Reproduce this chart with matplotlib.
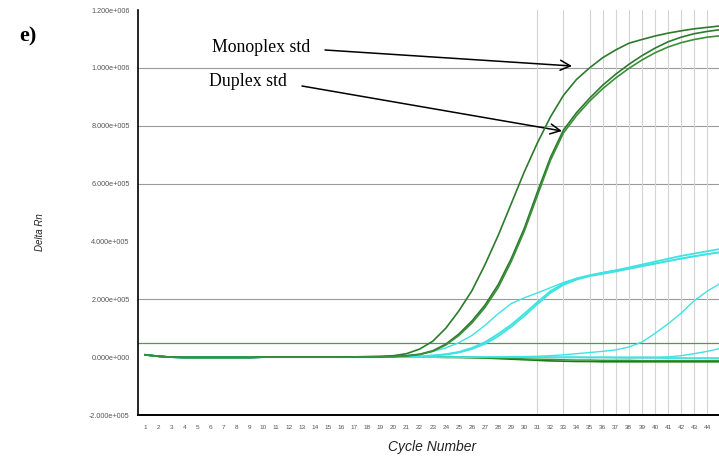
import matplotlib
matplotlib.use("Agg")
import matplotlib.pyplot as plt
from matplotlib.ticker import FixedLocator

cycles = list(range(1, 46))

# values in units of 1e3 (Delta Rn), cycles 1..45
monoplex = [8, 3, 0, -1, -1, -1, -1, -1, -1, 0, 0, 0, 0, 0, 0, 1, 1, 2, 3, 5,
            12, 28, 55, 100, 160, 230, 320, 420, 530, 640, 740, 830, 905, 960, 1000,
            1035, 1062, 1085, 1098, 1110, 1120, 1128, 1135, 1140, 1145]
duplex_a = [8, 3, 0, -1, -1, -1, -1, -1, -1, 0, 0, 0, 0, 0, 0, 0, 1, 1, 1, 2,
            5, 10, 22, 45, 80, 125, 180, 250, 340, 445, 570, 690, 785, 845, 895,
            940, 978, 1012, 1042, 1068, 1090, 1106, 1118, 1126, 1132]
duplex_b = [8, 3, 0, -1, -1, -1, -1, -1, -1, 0, 0, 0, 0, 0, 0, 0, 1, 1, 1, 2,
            4, 9, 20, 42, 75, 118, 172, 240, 330, 435, 558, 680, 775, 835, 885,
            928, 965, 998, 1027, 1052, 1072, 1087, 1098, 1106, 1111]
green_base_a = [8, 3, 0, -1, -1, -1, -1, -1, -1, 0, 0, 0, 0, 0, 0, 0, 0, 0, 0, 0,
                0, 0, 0, -1, -1, -2, -3, -5, -7, -9, -11, -13, -14, -15, -15,
                -16, -16, -16, -16, -16, -16, -16, -16, -16, -16]
green_base_b = [8, 3, 0, -1, -1, -1, -1, -1, -1, 0, 0, 0, 0, 0, 0, 0, 0, 0, 0, 0,
                0, 0, 0, 0, -1, -1, -2, -3, -4, -6, -7, -8, -9, -10, -10,
                -11, -11, -11, -12, -12, -12, -12, -12, -12, -12]
cyan_early = [8, 3, 0, -1, -1, -1, -1, -1, -1, 0, 0, 0, 0, 0, 0, 0, 1, 1, 1, 2,
              5, 10, 20, 32, 50, 75, 110, 150, 185, 205, 222, 240, 258, 272, 282,
              292, 300, 308, 316, 324, 332, 340, 348, 356, 364]
cyan_mid_a = [8, 3, 0, -1, -1, -1, -1, -1, -1, 0, 0, 0, 0, 0, 0, 0, 0, 0, 0, 1,
              1, 3, 6, 10, 18, 32, 52, 80, 112, 150, 190, 228, 255, 272, 283,
              292, 300, 310, 320, 330, 340, 350, 358, 366, 374]
cyan_mid_b = [8, 3, 0, -1, -1, -1, -1, -1, -1, 0, 0, 0, 0, 0, 0, 0, 0, 0, 0, 1,
              1, 2, 5, 9, 16, 28, 46, 72, 105, 142, 183, 222, 250, 268, 280,
              288, 296, 305, 314, 323, 332, 341, 349, 356, 362]
cyan_late = [8, 3, 0, -1, -1, -1, -1, -1, -1, 0, 0, 0, 0, 0, 0, 0, 0, 0, 0, 0,
             0, 0, 0, 0, 0, 0, 1, 1, 2, 2, 3, 5, 8, 12, 16,
             20, 25, 35, 52, 82, 115, 152, 195, 228, 255]
cyan_latest = [8, 3, 0, -1, -1, -1, -1, -1, -1, 0, 0, 0, 0, 0, 0, 0, 0, 0, 0, 0,
               0, 0, 0, 0, 0, 0, 0, 0, 0, 0, 0, 0, 0, 0, 0,
               0, 0, 0, 0, 0, 1, 5, 12, 20, 30]
cyan_base = [8, 3, 0, -1, -1, -1, -1, -1, -1, 0, 0, 0, 0, 0, 0, 0, 0, 0, 0, 0,
             0, 0, 0, 0, 0, 0, 0, 0, 0, 0, 0, -1, -1, -1, -1,
             -1, -2, -2, -2, -2, -3, -3, -3, -3, -3]
gray_base = [8, 3, 0, -1, -1, -1, -1, -1, -1, 0, 0, 0, 0, 0, 0, 0, 0, 0, 0, 0,
             0, 0, 0, 0, 0, 0, 0, 0, 0, 0, 0, -1, -1, -1, -2,
             -2, -2, -3, -3, -3, -4, -4, -5, -5, -6]

threshold = 50  # 1e3
ytick_vals = [-200, 0, 200, 400, 600, 800, 1000, 1200]
ytick_labels = ["-2.000e+005", "0.000e+000", "2.000e+005", "4.000e+005",
                "6.000e+005", "8.000e+005", "1.000e+006", "1.200e+006"]
hgrid_vals = [200, 600, 800, 1000]
vgrid_cycles = [31, 33, 35, 36, 37, 38, 39, 40, 41, 42, 43, 44]

fig = plt.figure(figsize=(7.19, 4.59), dpi=100)
ax = fig.add_axes([138/719, 1 - 415/459, 1 - 138/719, (415 - 10)/459])
ax.set_xlim(0.45, 44.9)
ax.set_ylim(-200, 1200)

for v in hgrid_vals:
    ax.axhline(v, color="#9a9a9a", lw=0.8, zorder=1)
for c in vgrid_cycles:
    ax.axvline(c, color="#d4d4d4", lw=0.8, zorder=1)
ax.axhline(threshold, color="#4f9a4f", lw=0.9, zorder=2)

cyan = "#3fe3e3"
gdark = "#2c7a2c"
ax.plot(cycles, gray_base, color="#c8c8c8", lw=1.0, zorder=3)
ax.plot(cycles, cyan_base, color=cyan, lw=1.2, zorder=3)
ax.plot(cycles, green_base_a, color="#167a16", lw=1.2, zorder=3)
ax.plot(cycles, green_base_b, color="#2f9a2f", lw=1.0, zorder=3)
ax.plot(cycles, cyan_latest, color=cyan, lw=1.0, zorder=4)
ax.plot(cycles, cyan_late, color=cyan, lw=1.0, zorder=4)
ax.plot(cycles, cyan_early, color=cyan, lw=1.0, zorder=4)
ax.plot(cycles, cyan_mid_a, color=cyan, lw=1.3, zorder=4)
ax.plot(cycles, cyan_mid_b, color=cyan, lw=1.3, zorder=4)
ax.plot(cycles, monoplex, color=gdark, lw=1.2, zorder=5)
ax.plot(cycles, duplex_a, color=gdark, lw=1.2, zorder=5)
ax.plot(cycles, duplex_b, color="#3a8f3a", lw=1.2, zorder=5)

ax.spines["top"].set_visible(False)
ax.spines["right"].set_visible(False)
ax.spines["left"].set_linewidth(1.2)
ax.spines["bottom"].set_linewidth(1.4)
ax.yaxis.set_major_locator(FixedLocator(ytick_vals))
ax.set_yticklabels(ytick_labels, fontsize=5.2, color="#555555", family="Liberation Sans")
ax.xaxis.set_major_locator(FixedLocator(cycles))
ax.set_xticklabels([str(c) for c in cycles], fontsize=4.6, color="#555555", family="Liberation Sans")
ax.tick_params(axis="both", length=0)
ax.tick_params(axis="y", pad=6)
ax.tick_params(axis="x", pad=7)

fig.text(40/719, 1 - 232/459, "Delta Rn", rotation=90, ha="center", va="center",
         fontsize=7, style="italic", family="Liberation Sans", color="#222222")
fig.text(432/719, 1 - 447/459, "Cycle Number", ha="center", va="center",
         fontsize=10, style="italic", family="Liberation Sans", color="#222222")
fig.text(28/719, 1 - 36/459, "e)", ha="center", va="center", fontsize=16,
         fontweight="bold", family="Liberation Serif")

fig.text(261/719, 1 - 48/459, "Monoplex std", ha="center", va="center",
         fontsize=12.8, family="Liberation Serif")
fig.text(248/719, 1 - 81/459, "Duplex std", ha="center", va="center",
         fontsize=12.8, family="Liberation Serif")

arrow = dict(arrowstyle="->", color="black", lw=1.1, mutation_scale=18,
             shrinkA=0, shrinkB=0)
ax.annotate("", xy=(572, 459 - 66), xytext=(325, 459 - 50),
            xycoords="figure pixels", textcoords="figure pixels", arrowprops=arrow)
ax.annotate("", xy=(562, 459 - 131), xytext=(302, 459 - 86),
            xycoords="figure pixels", textcoords="figure pixels", arrowprops=arrow)

fig.savefig("out.png", dpi=100)
